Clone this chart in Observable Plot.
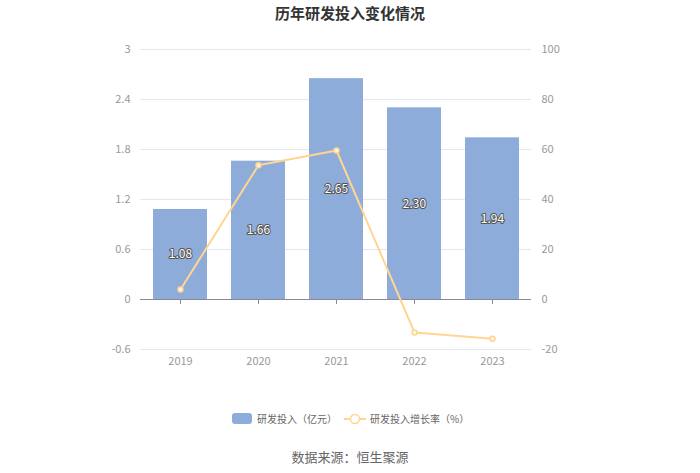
<!DOCTYPE html>
<html><head><meta charset="utf-8">
<script src="https://cdn.jsdelivr.net/npm/d3@7"></script>
<script src="https://cdn.jsdelivr.net/npm/@observablehq/plot@0.6"></script>
<style>
body{margin:0;background:#fff;font-family:"Noto Sans CJK SC","Noto Sans",sans-serif;width:700px;height:473px;overflow:hidden}
#title{height:30px;line-height:26px;text-align:center;font-weight:bold;font-size:15px;color:#333}
#legend{position:absolute;top:409px;left:0;width:700px;height:18px;font-size:10px;color:#666}
#caption{position:absolute;top:447px;left:0;width:700px;text-align:center;font-size:13px;color:#666}
</style></head>
<body>
<div id="title">历年研发投入变化情况</div>
<div id="chart"></div>
<div id="legend">
  <span style="position:absolute;left:232px;top:4px;width:20px;height:11px;background:#8eacd9;border-radius:3px"></span>
  <span style="position:absolute;left:257px;top:2px">研发投入（亿元）</span>
  <svg style="position:absolute;left:344px;top:2px" width="22" height="16"><line x1="0" y1="8" x2="22" y2="8" stroke="#ffd591" stroke-width="2"/><circle cx="11" cy="8" r="4.5" fill="#fff" stroke="#ffd591" stroke-width="1.5"/></svg>
  <span style="position:absolute;left:370px;top:2px">研发投入增长率（%）</span>
</div>
<div id="caption">数据来源：恒生聚源</div>
<script>
const years = ["2019","2020","2021","2022","2023"];
const investment = [1.08, 1.66, 2.65, 2.30, 1.94];
const growth = [4.0, 53.7, 59.6, -13.2, -15.7];
const leftTicks = [-0.6, 0, 0.6, 1.2, 1.8, 2.4, 3];
const rightTicks = [-20, 0, 20, 40, 60, 80, 100];

const yMin = -0.6, yMax = 3, rMin = -20, rMax = 100;
const toLeft = v => yMin + (v - rMin) * (yMax - yMin) / (rMax - rMin);

const bars = years.map((y, i) => ({year: y, value: investment[i]}));
const line = years.map((y, i) => ({year: y, g: growth[i], gy: toLeft(growth[i])}));

const chart = Plot.plot({
  width: 700,
  height: 350,
  marginTop: 19,
  marginBottom: 31,
  marginLeft: 140,
  marginRight: 169,
  style: {fontFamily: "'Noto Sans CJK SC','Noto Sans',sans-serif", fontSize: "11px", color: "#999", background: "#fff"},
  x: {domain: years, paddingInner: 0.31, paddingOuter: 0.155, label: null, axis: null},
  y: {domain: [yMin, yMax], label: null, axis: null},
  marks: [
    Plot.ruleY(leftTicks.filter(d => d !== 0), {stroke: "#e3e7f1", strokeWidth: 1}),
    Plot.barY(bars, {x: "year", y: "value", fill: "#8eacd9"}),
    Plot.ruleY([0], {stroke: "#8a8a95", strokeWidth: 1}),
    Plot.ruleX(years, {x: d => d, y1: 0, y2: 0, insetBottom: -5, stroke: "#8a8a95", strokeWidth: 1}),
    Plot.axisX({tickSize: 0, tickPadding: 0, fill: "#999", fontSize: 11, dy: 8, anchor: "bottom", label: null}),
    Plot.axisY({ticks: leftTicks, tickSize: 0, tickPadding: 10, fill: "#999", fontSize: 11, anchor: "left", label: null, tickFormat: d => String(d)}),
    Plot.axisY({ticks: rightTicks.map(toLeft), tickSize: 0, tickPadding: 10, fill: "#999", fontSize: 11, anchor: "right", label: null, tickFormat: d => String(Math.round((d - yMin) * (rMax - rMin) / (yMax - yMin) + rMin))}),
    Plot.text(bars, {x: "year", y: d => d.value / 2, text: d => d.value.toFixed(2), fill: "#fff", stroke: "#555", strokeWidth: 2, fontSize: 12, paintOrder: "stroke"}),
    Plot.line(line, {x: "year", y: "gy", stroke: "#ffd591", strokeWidth: 2}),
    Plot.dot(line, {x: "year", y: "gy", r: 2.5, fill: "#fff6e6", stroke: "#ffd591", strokeWidth: 1.5})
  ]
});
document.getElementById("chart").appendChild(chart);
</script>
</body></html>
